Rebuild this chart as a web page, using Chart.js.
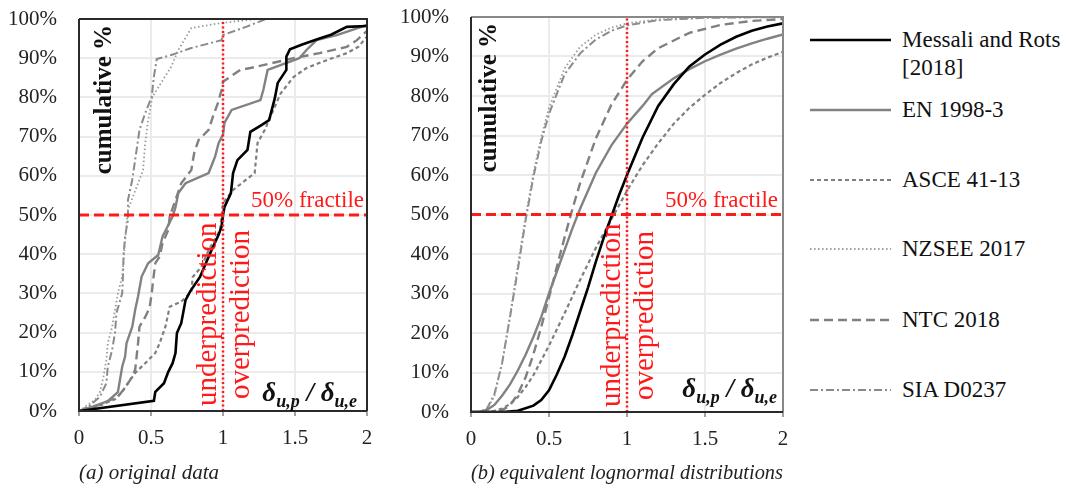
<!DOCTYPE html>
<html>
<head>
<meta charset="utf-8">
<script src="https://cdn.jsdelivr.net/npm/chart.js@4.4.0/dist/chart.umd.min.js"></script>
<style>
    body { margin: 0; background: #fff; width: 1092px; height: 491px; overflow: hidden; position: relative; font-family: "Liberation Serif", serif; }
    #wrapA { position: absolute; left: 0; top: 0; width: 395px; height: 491px; }
    #wrapB { position: absolute; left: 395px; top: 0; width: 405px; height: 491px; }
    #legend { position: absolute; left: 810px; top: 0; width: 282px; height: 491px; }
    .item { position: absolute; left: 0; width: 282px; height: 28px; font-size: 23px; line-height: 28px; color: #111; }
    .item svg { position: absolute; left: 0; top: 0; }
    .item span { position: absolute; left: 92px; top: 0; white-space: nowrap; }
</style>
</head>
<body>
<div id="wrapA"><canvas id="chartA" width="395" height="491"></canvas></div>
<div id="wrapB"><canvas id="chartB" width="405" height="491"></canvas></div>
<div id="legend"></div>

<script>
// series names (legend order)
const seriesNames = ['Messali and Rots [2018]', 'EN 1998-3', 'ASCE 41-13', 'NZSEE 2017', 'NTC 2018', 'SIA D0237'];

// axis ticks
const xTickLabels = ['0', '0.5', '1', '1.5', '2'];
const yTickStep = 10;
const fractile = 50;      // 50% fractile line
const boundaryX = 1;      // under/over prediction boundary

// (a) original data  [ratio, cumulative %]
const origMessali = [[0,0],[0.52,2.6],[0.53,4.9],[0.59,7.1],[0.62,10],[0.65,12.2],[0.67,14.8],[0.68,19.9],[0.71,22.4],[0.74,28.3],[0.77,30.4],[0.84,34.2],[0.92,41],[0.97,45],[0.99,47],[1.0,50],[1.01,52],[1.055,55.6],[1.07,60.7],[1.10,64],[1.17,66.6],[1.19,71.2],[1.27,73],[1.32,74.2],[1.36,79.8],[1.38,83.7],[1.44,87],[1.44,90.4],[1.465,92.3],[1.55,93.5],[1.67,95],[1.75,96],[1.86,98],[2,98.2]];
const origEN = [[0,0],[0.1,1.2],[0.2,2.5],[0.27,4.8],[0.30,11.3],[0.32,13.9],[0.33,17.3],[0.37,21.5],[0.39,25.8],[0.41,29.2],[0.435,34.3],[0.48,37.7],[0.55,39.8],[0.58,44.5],[0.65,49.6],[0.67,52],[0.69,55.6],[0.74,58.1],[0.90,60.7],[0.945,64.9],[0.97,68.4],[1.0,70.5],[1.01,73.5],[1.06,76.8],[1.26,79.3],[1.28,81.9],[1.31,87],[1.53,90],[1.58,92.1],[1.65,94.6],[1.79,95.9],[2.0,98.5]];
const origASCE = [[0,0],[0.15,1.5],[0.25,3],[0.30,4.9],[0.34,7.1],[0.39,9.7],[0.46,12.2],[0.53,14.8],[0.56,17.3],[0.60,21.5],[0.63,26.6],[0.71,27.9],[0.78,30.4],[0.79,34.2],[0.85,36.8],[0.90,41],[0.98,46.2],[0.99,49.6],[1.0,53],[1.07,56.4],[1.22,60.7],[1.24,68.4],[1.29,71.7],[1.35,76.8],[1.40,81],[1.49,85.2],[1.58,87.5],[1.72,89.5],[1.86,91.3],[1.94,92.9],[2.0,95.5]];
const origNZSEE = [[0,0],[0.11,2.8],[0.146,4.9],[0.17,8.8],[0.19,13],[0.20,17.3],[0.23,21.5],[0.25,25.8],[0.27,30],[0.30,34.3],[0.31,38.5],[0.32,42.8],[0.33,48],[0.34,51.3],[0.375,54.7],[0.42,59],[0.445,61.5],[0.46,68.4],[0.48,74.2],[0.51,80.2],[0.57,83.7],[0.64,87.8],[0.69,92.1],[0.78,97.7],[0.99,99],[1.24,100],[2,100]];
const origNTC = [[0,0],[0.1,1],[0.2,2.5],[0.27,3.7],[0.32,5.9],[0.355,7.9],[0.39,10.5],[0.40,13.9],[0.41,17.3],[0.42,21.5],[0.46,24],[0.49,26.3],[0.505,30],[0.515,33.4],[0.53,37.7],[0.56,39.4],[0.58,42.8],[0.62,46.2],[0.63,49.6],[0.67,53.8],[0.71,58.1],[0.78,61.5],[0.80,65.8],[0.83,69.1],[0.90,71.7],[0.93,75.1],[0.965,78.6],[0.99,81.9],[1.0,84],[1.12,87],[1.19,87.5],[1.49,90],[1.67,91.3],[1.86,92.9],[1.93,94.6],[2.0,97]];
const origSIA = [[0,0],[0.08,1.5],[0.146,3.7],[0.19,7.1],[0.20,11.3],[0.23,15.6],[0.25,19.9],[0.26,25],[0.30,30],[0.305,34.3],[0.31,40.2],[0.32,44.5],[0.34,48.8],[0.34,53.8],[0.37,59],[0.40,66.6],[0.42,71.7],[0.46,76],[0.505,80.2],[0.52,85.3],[0.54,89.8],[0.64,90.8],[0.78,92.6],[0.99,94.6],[1.0,95.9],[1.16,98],[1.30,100],[2,100]];

// (b) equivalent lognormal distributions  [ratio, cumulative %]
const lnMessali = [[0,0],[0.2,0],[0.3,0.3],[0.4,1.6],[0.45,3],[0.5,5.5],[0.55,9.5],[0.6,14],[0.65,19.5],[0.7,25.5],[0.75,31.5],[0.8,38],[0.85,44],[0.9,49.5],[0.95,55],[1.0,60],[1.1,69.5],[1.2,77.5],[1.3,83],[1.4,87.5],[1.5,90.5],[1.6,93],[1.7,95],[1.8,96.5],[1.9,97.6],[2.0,98.4]];
const lnEN = [[0,0],[0.05,0],[0.1,0.5],[0.15,1.8],[0.2,4.2],[0.25,7],[0.3,10.5],[0.35,14.5],[0.4,19],[0.45,24],[0.5,30],[0.55,35.5],[0.6,41],[0.65,46.5],[0.7,51.5],[0.8,60.5],[0.9,67.5],[1.0,73],[1.1,77.5],[1.16,80.5],[1.3,84.5],[1.4,86.8],[1.5,88.8],[1.6,90.5],[1.7,92],[1.8,93.3],[1.9,94.5],[2.0,95.6]];
const lnASCE = [[0,0],[0.1,0],[0.15,0.3],[0.2,0.9],[0.25,2],[0.3,3.8],[0.35,6.3],[0.4,9.3],[0.5,16.8],[0.6,25],[0.7,33.5],[0.8,41.5],[0.9,48.8],[1.0,56],[1.1,62.5],[1.2,68],[1.3,73],[1.4,77],[1.5,80.3],[1.6,83.3],[1.7,85.8],[1.8,88],[1.9,89.7],[2.0,91.2]];
const lnNZSEE = [[0,0],[0.05,0],[0.1,0.5],[0.15,4],[0.2,12.5],[0.25,24.5],[0.3,37],[0.35,49.5],[0.4,60.5],[0.45,69.5],[0.5,77],[0.6,87],[0.7,92.5],[0.8,95.5],[0.9,97.3],[1.0,98.4],[1.2,99.4],[1.5,99.9],[2.0,100]];
const lnNTC = [[0,0],[0.1,0],[0.15,0.1],[0.2,0.5],[0.25,1.7],[0.3,4.5],[0.35,8.8],[0.4,14.6],[0.45,21.5],[0.5,29],[0.55,36.7],[0.6,44.2],[0.65,51.4],[0.7,58],[0.8,69.2],[0.9,77.8],[1.0,84.1],[1.1,88.8],[1.2,92.1],[1.4,96],[1.6,98],[1.8,99],[2.0,99.5]];
const lnSIA = [[0,0],[0.05,0],[0.1,0.7],[0.15,4.5],[0.2,12.5],[0.25,24],[0.3,36],[0.35,48.5],[0.4,59.5],[0.45,68.5],[0.5,75.5],[0.6,85.5],[0.7,90.8],[0.8,94.3],[0.9,96.5],[1.0,97.9],[1.2,99.2],[1.5,99.8],[2.0,100]];

// line styles, same order as seriesNames
const styles = [
    { color: '#000000', width: 2.6, dash: [] },
    { color: '#828282', width: 2.4, dash: [] },
    { color: '#7f7f7f', width: 2.2, dash: [4, 3] },
    { color: '#9a9a9a', width: 1.8, dash: [1.5, 2.5] },
    { color: '#808080', width: 2.4, dash: [9, 5] },
    { color: '#8a8a8a', width: 2, dash: [8, 3, 2, 3] }
];

const RED = '#ff1a1a';
const FONT = '"Liberation Serif", serif';

function toXY(arr) {
    return arr.map(p => ({ x: p[0], y: p[1] }));
}

function buildDatasets(series) {
    const sets = [
        { data: [{ x: 0, y: fractile }, { x: 2, y: fractile }], borderColor: RED, borderWidth: 3, borderDash: [10, 5] },
        { data: [{ x: boundaryX, y: 0 }, { x: boundaryX, y: 100 }], borderColor: RED, borderWidth: 2.5, borderDash: [2, 2.5] }
    ];
    series.forEach((s, i) => {
        sets.push({
            label: seriesNames[i],
            data: toXY(s),
            borderColor: styles[i].color,
            borderWidth: styles[i].width,
            borderDash: styles[i].dash
        });
    });
    return sets;
}

function vText(ctx, text, x, y, align) {
    ctx.save();
    ctx.translate(x, y);
    ctx.rotate(-Math.PI / 2);
    ctx.textAlign = align;
    ctx.textBaseline = 'middle';
    ctx.fillText(text, 0, 0);
    ctx.restore();
}

function drawDelta(ctx, right, base) {
    const big = 'bold italic 27px ' + FONT;
    const small = 'bold italic 18px ' + FONT;
    const parts = [['δ', big, 0], ['u,p', small, 6], [' / ', big, 0], ['δ', big, 0], ['u,e', small, 6]];
    let w = 0;
    parts.forEach(p => { ctx.font = p[1]; w += ctx.measureText(p[0]).width; });
    let x = right - w;
    ctx.textAlign = 'left';
    ctx.textBaseline = 'alphabetic';
    parts.forEach(p => {
        ctx.font = p[1];
        ctx.fillText(p[0], x, base + p[2]);
        x += ctx.measureText(p[0]).width;
    });
}

// frame + in-plot annotations
const panelDecor = {
    id: 'panelDecor',
    afterDatasetsDraw(chart, args, o) {
        const { ctx, chartArea: a, scales: { x, y } } = chart;
        const xLine = x.getPixelForValue(boundaryX);
        const yLine = y.getPixelForValue(fractile);
        ctx.save();

        // frame
        ctx.lineWidth = 2;
        ctx.strokeStyle = o.farColor;
        ctx.beginPath();
        ctx.moveTo(a.left, a.top); ctx.lineTo(a.right, a.top); ctx.lineTo(a.right, a.bottom);
        ctx.stroke();
        ctx.strokeStyle = '#2a2a2a';
        ctx.beginPath();
        ctx.moveTo(a.left, a.top); ctx.lineTo(a.left, a.bottom); ctx.lineTo(a.right, a.bottom);
        ctx.stroke();

        // y title inside the plot
        ctx.fillStyle = '#111';
        ctx.font = 'bold 25px ' + FONT;
        vText(ctx, 'cumulative %', a.left + o.cumX, a.top + 6, 'right');

        // red labels
        ctx.fillStyle = RED;
        ctx.font = '23px ' + FONT;
        ctx.textAlign = 'right';
        ctx.textBaseline = 'alphabetic';
        ctx.fillText('50% fractile', a.right - o.fracRight, yLine - 8);
        ctx.font = '29px ' + FONT;
        vText(ctx, 'underprediction', xLine - 15, a.bottom - 5, 'left');
        vText(ctx, 'overprediction', xLine + 18, a.bottom - 12, 'left');

        // axis ratio label
        ctx.fillStyle = '#111';
        drawDelta(ctx, a.right - o.deltaRight, a.bottom - o.deltaUp);
        ctx.restore();
    }
};

function makeChart(id, series, opts) {
    const ctx = document.getElementById(id).getContext('2d');
    return new Chart(ctx, {
        type: 'line',
        data: { datasets: buildDatasets(series) },
        plugins: [panelDecor],
        options: {
            responsive: false,
            animation: false,
            devicePixelRatio: 1,
            layout: { padding: { top: opts.top, right: opts.right, bottom: 0, left: 0 } },
            elements: { point: { radius: 0 }, line: { tension: 0, borderCapStyle: 'butt' } },
            plugins: {
                legend: { display: false },
                tooltip: { enabled: false },
                panelDecor: opts.decor
            },
            scales: {
                x: {
                    type: 'linear',
                    min: 0,
                    max: 2,
                    afterFit: s => { s.height = opts.xHeight; },
                    afterBuildTicks: s => { s.ticks = xTickLabels.map(t => ({ value: parseFloat(t) })); },
                    ticks: {
                        padding: 10,
                        color: '#222',
                        font: { family: FONT, size: 21 },
                        callback: (v, i) => xTickLabels[i]
                    },
                    grid: { color: '#ebebeb', lineWidth: 2, tickLength: 5, tickColor: '#444', tickWidth: 1 },
                    border: { display: false },
                    title: {
                        display: true,
                        text: opts.caption,
                        align: opts.captionAlign,
                        color: '#222',
                        font: { family: FONT, size: 21, style: 'italic' },
                        padding: { top: 0, bottom: 5 }
                    }
                },
                y: {
                    min: 0,
                    max: 100,
                    afterFit: s => { s.width = opts.yWidth; },
                    ticks: {
                        stepSize: yTickStep,
                        padding: 2,
                        color: '#222',
                        font: { family: FONT, size: 21 },
                        callback: v => v + '%'
                    },
                    grid: { color: '#ebebeb', lineWidth: 2, drawTicks: true, tickLength: 20, tickColor: 'rgba(0,0,0,0)' },
                    border: { display: false }
                }
            }
        }
    });
}

makeChart('chartA', [origMessali, origEN, origASCE, origNZSEE, origNTC, origSIA], {
    top: 19, right: 28, xHeight: 80, yWidth: 79,
    caption: '(a) original data', captionAlign: 'start',
    decor: { farColor: '#2a2a2a', cumX: 25.5, fracRight: 3, deltaRight: 10, deltaUp: 10 }
});

makeChart('chartB', [lnMessali, lnEN, lnASCE, lnNZSEE, lnNTC, lnSIA], {
    top: 17, right: 17, xHeight: 79, yWidth: 76,
    caption: '(b) equivalent lognormal distributions', captionAlign: 'center',
    decor: { farColor: '#888888', cumX: 19, fracRight: 5, deltaRight: 6, deltaUp: 15 }
});

// legend
const legendY = [40, 110, 180, 249, 320, 390];
const legend = document.getElementById('legend');
seriesNames.forEach((name, i) => {
    const st = styles[i];
    const item = document.createElement('div');
    item.className = 'item';
    item.style.top = (legendY[i] - 14) + 'px';
    const dash = st.dash.length ? st.dash.join(' ') : 'none';
    const label = i === 0 ? 'Messali and Rots<br>[2018]' : name;
    item.innerHTML =
        '<svg width="82" height="28"><line x1="0" y1="14" x2="81" y2="14" stroke="' + st.color +
        '" stroke-width="' + st.width + '" stroke-dasharray="' + dash + '"/></svg>' +
        '<span>' + label + '</span>';
    legend.appendChild(item);
});
</script>
</body>
</html>
